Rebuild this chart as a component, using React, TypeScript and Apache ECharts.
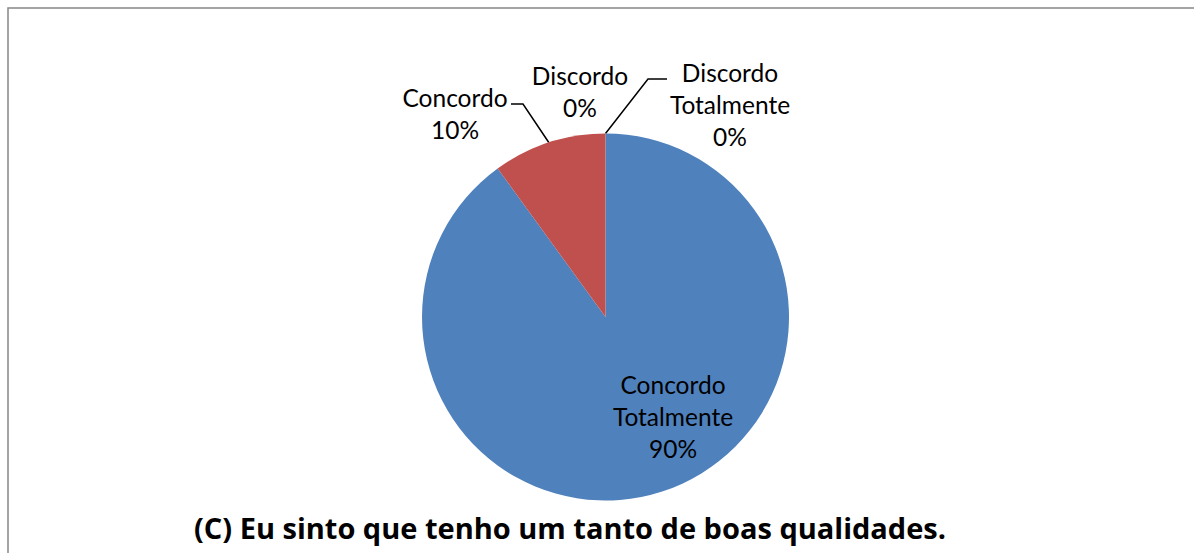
import React, { useEffect, useRef } from "react";
import * as echarts from "echarts";

const categories = ["Concordo Totalmente", "Concordo", "Discordo", "Discordo Totalmente"];
const percents = [90, 10, 0, 0];
const sliceColors = ["#4F81BD", "#C0504D", "#9BBB59", "#8064A2"];
const titleText = "(C) Eu sinto que tenho um tanto de boas qualidades.";

const FONT = "Lato, 'Noto Sans', sans-serif";
const TITLE_FONT = "'Open Sans', 'Noto Sans', sans-serif";

// label anchor positions (layout only)
const labelAnchors = [
  { x: 673, y: 416 },
  { x: 455, y: 113 },
  { x: 580, y: 91 },
  { x: 730, y: 104 },
];
// elbow points of leader lines (layout only)
const elbows: (number[][] | null)[] = [
  null,
  [[523, 104], [511, 104]],
  null,
  [[648, 79], [667, 79]],
];

export default function App() {
  const ref = useRef<HTMLDivElement>(null);
  useEffect(() => {
    if (!ref.current) return;
    const chart = echarts.init(ref.current, undefined, { renderer: "svg" });
    const data = categories.map((name, i) => ({
      name,
      value: percents[i],
      itemStyle: { color: sliceColors[i] },
      labelLine: { show: elbows[i] !== null },
    }));
    chart.setOption({
      animation: false,
      backgroundColor: "#ffffff",
      graphic: [
        {
          type: "rect",
          shape: { x: 8, y: 8, width: 1400, height: 800 },
          style: { fill: "none", stroke: "#878787", lineWidth: 1.5 },
          silent: true,
        },
        {
          type: "text",
          x: 570,
          y: 527,
          style: {
            text: titleText,
            fill: "#000",
            font: `bold 29px ${TITLE_FONT}`,
            textAlign: "center",
            textVerticalAlign: "middle",
          },
        },
      ],
      series: [
        {
          type: "pie",
          center: [605.5, 317],
          radius: [0, 183.5],
          startAngle: 90,
          clockwise: true,
          avoidLabelOverlap: false,
          data,
          itemStyle: { borderWidth: 0 },
          emphasis: { disabled: true },
          label: {
            show: true,
            position: "outside",
            color: "#000",
            fontSize: 24.5,
            lineHeight: 32,
            fontFamily: FONT,
            align: "center",
            formatter: (p: any) => `${String(p.name).replace(" ", "\n")}\n${p.value}%`,
          },
          labelLine: {
            show: true,
            lineStyle: { color: "#000", width: 1.5 },
            smooth: false,
          },
          labelLayout: (p: any) => {
            const i = p.dataIndex;
            const a = labelAnchors[i];
            const res: any = { x: a.x, y: a.y, align: "center", verticalAlign: "middle" };
            const e = elbows[i];
            if (e && p.labelLinePoints && p.labelLinePoints[0]) {
              res.labelLinePoints = [p.labelLinePoints[0], ...e];
            }
            return res;
          },
        },
      ],
    });
    return () => chart.dispose();
  }, []);
  return (
    <div
      ref={ref}
      style={{ position: "fixed", left: 0, top: 0, width: 1194, height: 553, background: "#fff" }}
    />
  );
}
